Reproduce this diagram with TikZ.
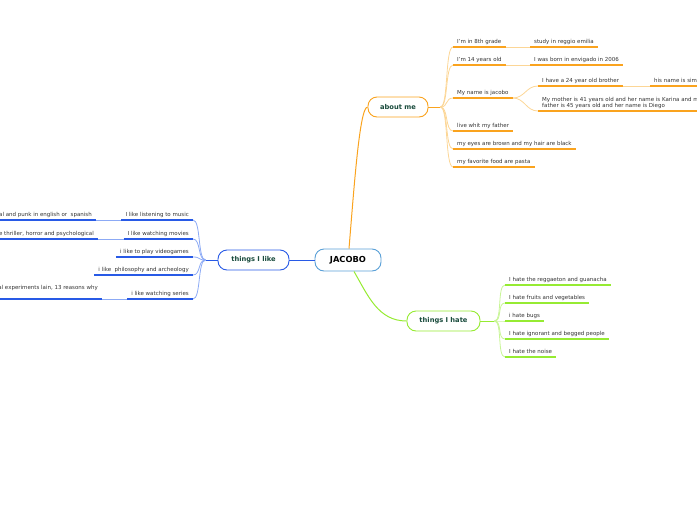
\documentclass[tikz,border=0pt]{standalone}
\usepackage{fontspec}
\setmainfont{DejaVu Sans}
\definecolor{orng}{RGB}{250,163,30}
\definecolor{orngl}{RGB}{252,214,150}
\definecolor{blu}{RGB}{40,90,230}
\definecolor{blul}{RGB}{140,170,245}
\definecolor{grn}{RGB}{150,235,50}
\definecolor{grnl}{RGB}{200,245,150}
\definecolor{topic}{RGB}{25,75,60}
\definecolor{jblue}{RGB}{90,160,215}
\tikzset{
  topicbox/.style={draw, fill=white, rounded corners=9pt, line width=0.9pt, minimum height=20pt,
    inner xsep=0pt, font=\fontsize{6.7}{8}\selectfont\bfseries, text=topic},
  leaf/.style={inner xsep=4pt, inner ysep=1.8pt, text height=4.2pt, text depth=1.2pt,
    font=\fontsize{5.5}{6.8}\selectfont, text=black!80},
}
\begin{document}
\begin{tikzpicture}[x=1pt,y=-1pt]
  \useasboundingbox (0,0) rectangle (697,520);
  % main topics
  \node[topicbox, draw=jblue, text=black, minimum width=66pt, minimum height=22pt,
    font=\fontsize{8.3}{9}\selectfont\bfseries] (jacobo) at (348,260) {JACOBO};
  \node[topicbox, draw=orng, minimum width=60pt] (about) at (398,107) {about me};
  \node[topicbox, draw=blu, minimum width=71pt] (like) at (253.5,260) {things I like};
  \node[topicbox, draw=grn, minimum width=73pt] (hate) at (443.5,321) {things I hate};
  % about me
  \node[leaf, anchor=south west] (grade) at (453,47) {I'm in 8th grade};
  \node[leaf, anchor=south west] (reggio) at (530,47) {study in reggio emilia};
  \node[leaf, anchor=south west] (age) at (453,65) {I'm 14 years old};
  \node[leaf, anchor=south west] (born) at (530,65) {I was born in envigado in 2006};
  \node[leaf, anchor=south west] (name) at (453,98) {My name is jacobo};
  \node[leaf, anchor=south west] (brother) at (538,86) {I have a 24 year old brother};
  \node[leaf, anchor=south west] (simon) at (650,86) {his name is simon};
  \node[leaf, anchor=south west, align=left, text height=11pt] (parents) at (538,111)
    {My mother is 41 years old and her name is Karina and my\\father is 45 years old and her name is Diego};
  \node[leaf, anchor=south west] (father) at (453,131) {live whit my father};
  \node[leaf, anchor=south west] (eyes) at (453,149) {my eyes are brown and my hair are black};
  \node[leaf, anchor=south west] (food) at (453,167) {my favorite food are pasta};
  % things I like
  \node[leaf, anchor=south east] (music) at (193,220) {I like listening to music};
  \node[leaf, anchor=south east] (rock) at (96,220) {rock, metal and punk in english or\ \ spanish};
  \node[leaf, anchor=south east] (movies) at (193,239) {I like watching movies};
  \node[leaf, anchor=south east] (genre) at (98,239) {suspense thriller, horror and psychological};
  \node[leaf, anchor=south east] (games) at (193,257) {i like to play videogames};
  \node[leaf, anchor=south east] (philo) at (193,275) {i like\ \ philosophy and archeology};
  \node[leaf, anchor=south east] (series) at (193,299) {i like watching series};
  \node[leaf, anchor=south east, text depth=8pt] (shows) at (102,299) {serial experiments lain, 13 reasons why};
  % things I hate
  \node[leaf, anchor=south west] (reggaeton) at (505,285) {I hate the reggaeton and guanacha};
  \node[leaf, anchor=south west] (fruits) at (505,303) {I hate fruits and vegetables};
  \node[leaf, anchor=south west] (bugs) at (505,321) {i hate bugs};
  \node[leaf, anchor=south west] (people) at (505,339) {I hate ignorant and begged people};
  \node[leaf, anchor=south west] (noise) at (505,357) {I hate the noise};

  % branches from the centre
  \draw[orng, line width=1pt] ([xshift=1pt]jacobo.north) .. controls +(5,-60) and +(-8,0) .. (about.west);
  \draw[blu, line width=1pt] (jacobo.west) -- (like.east);
  \draw[grn, line width=1pt] ([xshift=6pt]jacobo.south) to[out=-60, in=180] (hate.west);

  % about me links
  \draw[orng, line width=1pt] (about.east) -- ++(12,0) coordinate (aboutfork);
  \foreach \n in {grade,age,name,father,eyes,food}
    \draw[orngl, line width=0.8pt] (aboutfork) .. controls +(8,0) and +(-8,0) .. (\n.south west);
  \draw[orngl, line width=0.8pt] (grade.south east) -- (reggio.south west);
  \draw[orngl, line width=0.8pt] (age.south east) -- (born.south west);
  \draw[orngl, line width=0.8pt] (brother.south east) -- (simon.south west);
  \foreach \n in {brother,parents}
    \draw[orngl, line width=0.8pt] (name.south east) .. controls +(12,0) and +(-12,0) .. (\n.south west);
  \foreach \n in {grade,reggio,age,born,name,brother,simon,parents,father,eyes,food}
    \draw[orng, line width=1.4pt] (\n.south west) -- (\n.south east);

  % things I like links
  \draw[blu, line width=1pt] (like.west) -- ++(-12,0) coordinate (likefork);
  \foreach \n in {music,movies,games,philo,series}
    \draw[blul, line width=0.8pt] (likefork) .. controls +(-8,0) and +(8,0) .. (\n.south east);
  \draw[blul, line width=0.8pt] (music.south west) -- (rock.south east);
  \draw[blul, line width=0.8pt] (movies.south west) -- (genre.south east);
  \draw[blul, line width=0.8pt] (series.south west) -- (shows.south east);
  \foreach \n in {music,rock,movies,genre,games,philo,series,shows}
    \draw[blu, line width=1.4pt] (\n.south west) -- (\n.south east);

  % things I hate links
  \draw[grn, line width=1pt] (hate.east) -- ++(14,0) coordinate (hatefork);
  \foreach \n in {reggaeton,fruits,bugs,people,noise}
    \draw[grnl, line width=0.8pt] (hatefork) .. controls +(8,0) and +(-8,0) .. (\n.south west);
  \foreach \n in {reggaeton,fruits,bugs,people,noise}
    \draw[grn, line width=1.4pt] (\n.south west) -- (\n.south east);
\end{tikzpicture}
\end{document}
